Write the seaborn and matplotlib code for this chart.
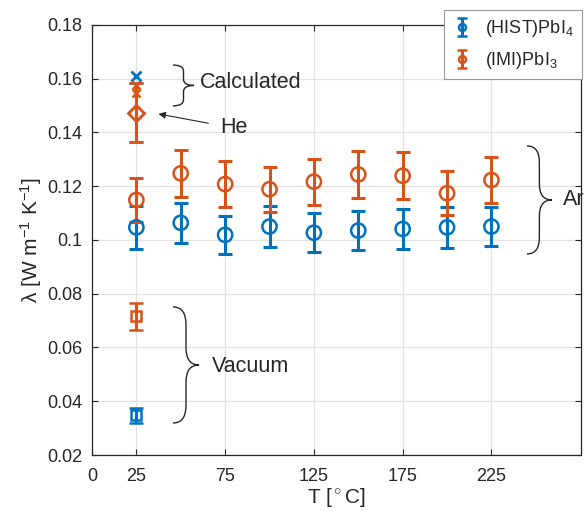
import matplotlib
matplotlib.use("Agg")
import matplotlib.pyplot as plt
import seaborn as sns
import pandas as pd
import numpy as np
from matplotlib.path import Path
from matplotlib.patches import PathPatch

# Ar atmosphere measurements
temps = [25, 50, 75, 100, 125, 150, 175, 200, 225]
hist_ar = [0.1047, 0.1064, 0.1019, 0.1050, 0.1027, 0.1035, 0.1041, 0.1047, 0.1050]
hist_ar_err = [0.0079, 0.0074, 0.0071, 0.0076, 0.0073, 0.0074, 0.0073, 0.0076, 0.0074]
imi_ar = [0.1149, 0.1248, 0.1208, 0.1189, 0.1217, 0.1244, 0.1239, 0.1174, 0.1223]
imi_ar_err = [0.0081, 0.0088, 0.0086, 0.0083, 0.0086, 0.0087, 0.0087, 0.0082, 0.0086]

# He, vacuum and calculated values at 25 C
hist_he, hist_he_err = 0.1473, 0.0110
imi_he, imi_he_err = 0.1473, 0.0110
hist_vac, hist_vac_err = 0.0347, 0.0028
imi_vac, imi_vac_err = 0.0716, 0.0050
hist_calc = 0.1612
imi_calc = [0.1577, 0.1547]

blue = "#0072BD"
orange = "#D95319"
txt = "#262626"

sns.set_theme(style="whitegrid")
plt.rcParams["font.family"] = ["Liberation Sans", "DejaVu Sans"]
plt.rcParams["mathtext.fontset"] = "custom"
plt.rcParams["mathtext.rm"] = "Liberation Sans"
plt.rcParams["mathtext.it"] = "Liberation Sans"

fig = plt.figure(figsize=(5.84, 5.15), dpi=100)
ax = fig.add_axes([0.1575, 0.1165, 0.8375, 0.835])

df = pd.DataFrame({"T": temps + temps,
                   "k": hist_ar + imi_ar,
                   "err": hist_ar_err + imi_ar_err,
                   "s": ["hist"] * len(temps) + ["imi"] * len(temps)})

eb = dict(elinewidth=2.2, capsize=5, capthick=2.2)
for s, c in [("hist", blue), ("imi", orange)]:
    d = df[df.s == s]
    ax.errorbar(d["T"], d["k"], yerr=d["err"], fmt="none", ecolor=c, zorder=3, **eb)
sns.scatterplot(data=df, x="T", y="k", hue="s", palette=[blue, orange],
                marker="o", s=105, linewidth=1.8, legend=False, ax=ax, zorder=4)
pts = ax.collections[-1]
pts.set_facecolor("none")
pts.set_edgecolor([blue] * len(temps) + [orange] * len(temps))

# vacuum
ax.errorbar([25], [hist_vac], yerr=[hist_vac_err], fmt="s", ms=7, mfc="none",
            mew=1.8, color=blue, zorder=4, **eb)
ax.errorbar([25], [imi_vac], yerr=[imi_vac_err], fmt="s", ms=7, mfc="none",
            mew=1.8, color=orange, zorder=4, **eb)
# He
ax.errorbar([25], [hist_he], yerr=[hist_he_err], fmt="D", ms=8, mfc="none",
            mew=1.8, color=blue, zorder=4, **eb)
ax.errorbar([25], [imi_he], yerr=[imi_he_err], fmt="D", ms=8, mfc="none",
            mew=1.8, color=orange, zorder=5, **eb)
# calculated
ax.plot([25], [hist_calc], "x", ms=6.5, mew=2, color=blue, zorder=5)
ax.plot([25] * len(imi_calc), imi_calc, "x", ms=6, mew=1.8, color=orange, zorder=6)


def brace(x0, x1, y0, y1):
    xm = (x0 + x1) / 2
    ym = (y0 + y1) / 2
    r = 0.3 * (y1 - y0) / 2
    verts = [(x0, y1), (xm, y1), (xm, y1 - r), (xm, ym + r), (xm, ym), (x1, ym),
             (xm, ym), (xm, ym - r), (xm, y0 + r), (xm, y0), (x0, y0)]
    codes = [Path.MOVETO, Path.CURVE3, Path.CURVE3, Path.LINETO, Path.CURVE3, Path.CURVE3,
             Path.CURVE3, Path.CURVE3, Path.LINETO, Path.CURVE3, Path.CURVE3]
    ax.add_patch(PathPatch(Path(verts, codes), fill=False, lw=1.0, ec=txt,
                           zorder=6, clip_on=False))


fs = 15.5
brace(45.6, 57.5, 0.1499, 0.1651)
ax.text(61, 0.1585, "Calculated", fontsize=fs, color=txt, va="center")
brace(45.6, 60.3, 0.0319, 0.0751)
ax.text(67.6, 0.0530, "Vacuum", fontsize=fs, color=txt, va="center")
brace(245, 259, 0.0948, 0.1350)
ax.text(265.4, 0.1149, "Ar", fontsize=fs, color=txt, va="center", clip_on=False)
ax.annotate("He", xy=(37.5, 0.1469), xytext=(72, 0.1417), fontsize=fs, color=txt,
            va="center", arrowprops=dict(arrowstyle="-|>", color=txt, lw=0.8,
                                         shrinkA=6, shrinkB=0, mutation_scale=10))

ax.set_xlim(0, 275.5)
ax.set_ylim(0.02, 0.18)
ax.set_xticks([0, 25, 75, 125, 175, 225])
yt = np.arange(0.02, 0.181, 0.02)
ax.set_yticks(yt)
ax.set_yticklabels([("%.2f" % v).rstrip("0") for v in yt])
ax.grid(True, color="#e3e3e3", lw=0.9)
for sp in ax.spines.values():
    sp.set_color(txt)
    sp.set_linewidth(0.9)
ax.tick_params(direction="in", length=4, width=0.8, color=txt, labelsize=13,
               labelcolor=txt, top=True, right=True, left=True, bottom=True)
ax.tick_params(axis="y", pad=7)
ax.tick_params(axis="x", pad=9)
ax.set_xlabel("T [$^\\circ$C]", fontsize=15, color=txt, labelpad=1)
ax.set_ylabel("λ [W m$^{-1}$ K$^{-1}$]", fontsize=15, color=txt, labelpad=2)

# legend handles
h1 = ax.errorbar([np.nan], [np.nan], yerr=[np.nan], fmt="o", ms=5, mfc="none", mew=1.8,
                 color=blue, elinewidth=2.2, capsize=3.5, capthick=2.2)
h2 = ax.errorbar([np.nan], [np.nan], yerr=[np.nan], fmt="o", ms=5, mfc="none", mew=1.8,
                 color=orange, elinewidth=2.2, capsize=3.5, capthick=2.2)
leg = fig.legend([h1, h2], ["(HIST)PbI$_4$", "(IMI)PbI$_3$"], loc="upper right",
                 bbox_to_anchor=(0.9966, 0.9806), borderaxespad=0, fontsize=13,
                 frameon=True, fancybox=False, framealpha=1, edgecolor="#999999",
                 handlelength=1.0, handletextpad=0.8, borderpad=0.45, labelspacing=0.6)
leg.get_frame().set_linewidth(0.8)
for t in leg.get_texts():
    t.set_color(txt)

fig.savefig("out.png", dpi=100)
